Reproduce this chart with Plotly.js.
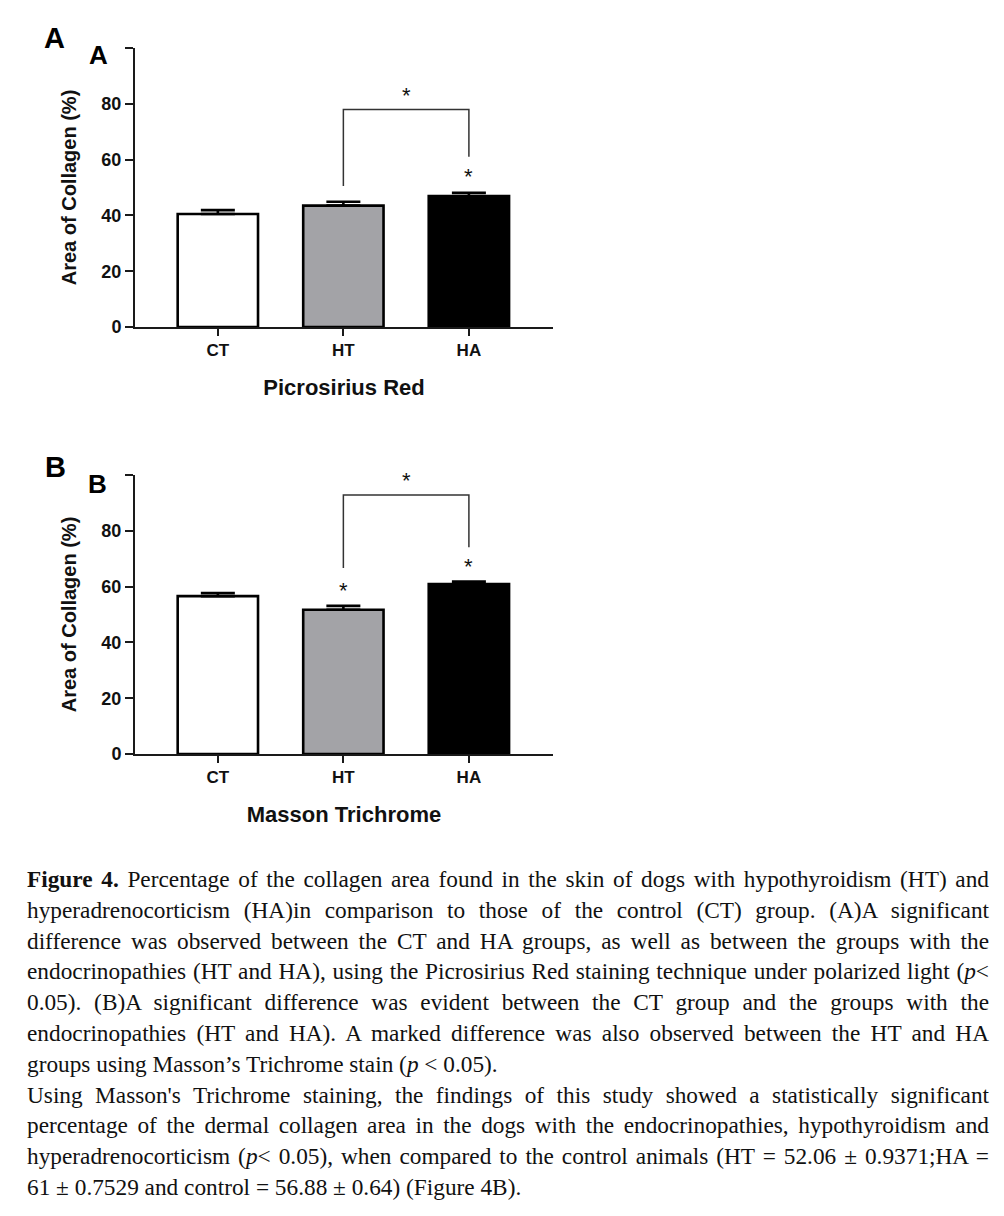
<!DOCTYPE html>
<html>
<head>
<meta charset="utf-8">
<script src="https://cdn.plot.ly/plotly-3.0.1.min.js"></script>
<style>
  html, body { margin: 0; padding: 0; background: #fff; }
  #wrap { position: relative; width: 1004px; height: 1216px; overflow: hidden; }
  #chart { position: absolute; left: 0; top: 0; width: 1004px; height: 1216px; }
  #caption {
    position: absolute; left: 27px; top: 864px; width: 962px;
    font-family: "Liberation Serif", "Times New Roman", serif;
    font-size: 23.3px; line-height: 30.8px; color: #111;
  }
  #caption div { white-space: nowrap; }
  #caption .j { text-align: justify; text-align-last: justify; }
</style>
</head>
<body>
<div id="wrap">
  <div id="chart"></div>
  <div id="caption">
    <div class="j"><b>Figure 4.</b> Percentage of the collagen area found in the skin of dogs with hypothyroidism (HT) and</div>
    <div class="j">hyperadrenocorticism (HA)in comparison to those of the control (CT) group. (A)A significant</div>
    <div class="j">difference was observed between the CT and HA groups, as well as between the groups with the</div>
    <div class="j">endocrinopathies (HT and HA), using the Picrosirius Red staining technique under polarized light (<i>p</i>&lt;</div>
    <div class="j">0.05). (B)A significant difference was evident between the CT group and the groups with the</div>
    <div class="j">endocrinopathies (HT and HA). A marked difference was also observed between the HT and HA</div>
    <div>groups using Masson’s Trichrome stain (<i>p</i> &lt; 0.05).</div>
    <div class="j">Using Masson's Trichrome staining, the findings of this study showed a statistically significant</div>
    <div class="j">percentage of the dermal collagen area in the dogs with the endocrinopathies, hypothyroidism and</div>
    <div class="j">hyperadrenocorticism (<i>p</i>&lt; 0.05), when compared to the control animals (HT = 52.06 ± 0.9371;HA =</div>
    <div>61 ± 0.7529 and control = 56.88 ± 0.64) (Figure 4B).</div>
  </div>
</div>
<script>
// ---- data ----
const categories = ['CT', 'HT', 'HA'];
const barColors = ['#ffffff', '#a3a3a7', '#000000'];

const picroMean = [40.5, 43.5, 46.9];
const picroSem  = [1.4, 1.4, 1.2];

const massonMean = [56.6, 51.7, 60.9];
const massonSem  = [1.1, 1.4, 0.9];

// significance bracket (HT vs HA): x categories and y levels
const bracketX = ['HT', 'HT', 'HA', 'HA'];
const picroBracketY  = [50.5, 78, 78, 61];
const massonBracketY = [66.7, 92.8, 92.8, 74.1];

// asterisk positions: [x (category index), y]
const picroStarX  = [1.5, 2];
const picroStarY  = [84, 55];
const massonStarX = [1.5, 1, 2];
const massonStarY = [99, 59.5, 68.3];

const yTickVals = [0, 20, 40, 60, 80, 100];
const yTickText = ['0', '20', '40', '60', '80', ''];

// ---- figure ----
const W = 1004, H = 1216;
const FONT = 'Liberation Sans, Arial, sans-serif';
const axisColor = '#1a1a1a';

function barTrace(mean, sem, xa, ya) {
  return {
    type: 'bar', x: categories, y: mean, xaxis: xa, yaxis: ya,
    width: 0.64,
    marker: { color: barColors, line: { color: '#000', width: 2.6 } },
    error_y: { type: 'data', symmetric: false, array: sem, arrayminus: [0, 0, 0],
               color: '#000', thickness: 2.6, width: 17 },
    showlegend: false, hoverinfo: 'skip'
  };
}
function bracketTrace(yv, xa, ya) {
  return {
    type: 'scatter', mode: 'lines', x: bracketX, y: yv, xaxis: xa, yaxis: ya,
    line: { color: '#333', width: 1.5 }, showlegend: false, hoverinfo: 'skip'
  };
}

const traces = [
  barTrace(picroMean, picroSem, 'x', 'y'),
  bracketTrace(picroBracketY, 'x', 'y'),
  barTrace(massonMean, massonSem, 'x2', 'y2'),
  bracketTrace(massonBracketY, 'x2', 'y2')
];

const xDomain = [135 / W, 553 / W];
function xAxis(title, anchor) {
  return {
    domain: xDomain, anchor: anchor, type: 'category',
    range: [-0.66, 2.67], fixedrange: true,
    showline: true, linecolor: axisColor, linewidth: 2,
    ticks: 'outside', ticklen: 7, tickwidth: 2, tickcolor: axisColor,
    tickfont: { family: FONT, size: 17, color: '#111', weight: 'bold' },
    showgrid: false, zeroline: false,
    title: { text: title, font: { family: FONT, size: 22, color: '#111', weight: 'bold' }, standoff: 20 }
  };
}
function yAxis(domTopPx, domBotPx, anchor) {
  return {
    domain: [1 - domBotPx / H, 1 - domTopPx / H], anchor: anchor,
    range: [0, 100], fixedrange: true,
    tickmode: 'array', tickvals: yTickVals, ticktext: yTickText,
    showline: true, linecolor: axisColor, linewidth: 2,
    ticks: 'outside', ticklen: 8, tickwidth: 2, tickcolor: axisColor,
    tickfont: { family: FONT, size: 18, color: '#111', weight: 'bold' },
    showgrid: false, zeroline: false,
    title: { text: 'Area of Collagen (%)', font: { family: FONT, size: 20, color: '#111', weight: 'bold' }, standoff: 19 }
  };
}

function stars(xs, ys, xa, ya) {
  return xs.map((x, i) => ({
    x: x, y: ys[i], xref: xa, yref: ya, text: '*', showarrow: false,
    yanchor: 'middle', yshift: -3,
    font: { family: FONT, size: 22, color: '#111' }
  }));
}
function panelLabel(text, xpx, ypx, size) {
  return { x: xpx / W, y: 1 - ypx / H, xref: 'paper', yref: 'paper', text: text,
           showarrow: false, xanchor: 'center', yanchor: 'middle',
           font: { family: FONT, size: size, color: '#000', weight: 'bold' } };
}

const layout = {
  width: W, height: H,
  margin: { l: 0, r: 0, t: 0, b: 0 },
  paper_bgcolor: '#fff', plot_bgcolor: '#fff',
  bargap: 0,
  xaxis: xAxis('Picrosirius Red', 'y'),
  yaxis: yAxis(48, 327, 'x'),
  xaxis2: xAxis('Masson Trichrome', 'y2'),
  yaxis2: yAxis(475, 754, 'x2'),
  annotations: [
    ...stars(picroStarX, picroStarY, 'x', 'y'),
    ...stars(massonStarX, massonStarY, 'x2', 'y2'),
    panelLabel('A', 54, 38, 29),
    panelLabel('A', 98, 55, 26),
    panelLabel('B', 55, 467, 29),
    panelLabel('B', 97, 484, 26)
  ]
};

Plotly.newPlot('chart', traces, layout, { staticPlot: true, displayModeBar: false });
</script>
</body>
</html>
